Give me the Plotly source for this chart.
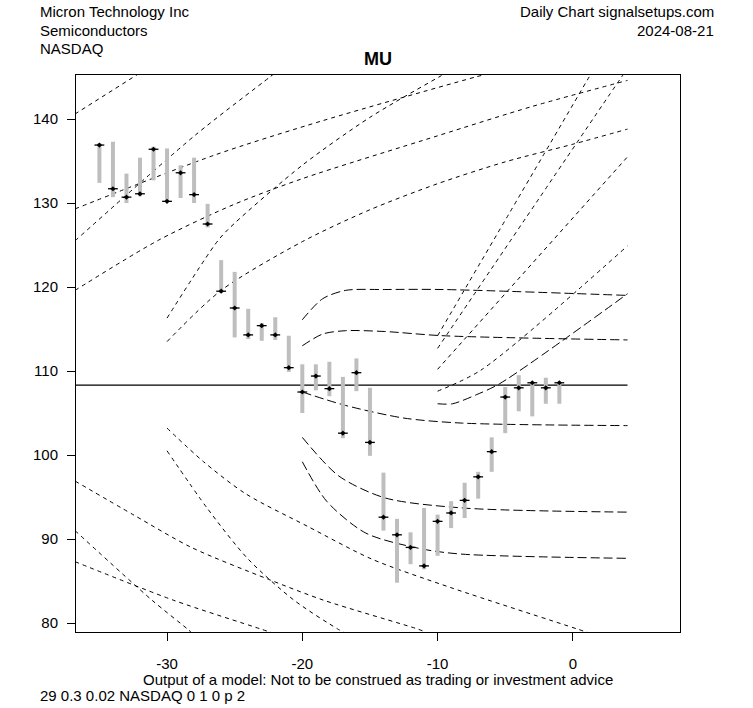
import plotly.graph_objects as go

# ---------------- data ----------------
days = list(range(-35, 0))
highs = [137.1, 137.3, 133.5, 135.4, 136.7, 136.5, 134.5, 135.4, 129.9, 123.2,
         121.8, 117.4, 115.7, 116.4, 114.2, 110.8, 110.8, 111.1, 109.3, 111.5,
         108.0, 97.9, 92.4, 90.8, 93.7, 92.9, 94.5, 96.7, 98.0, 102.1,
         108.1, 109.5, 108.7, 109.2, 108.6]
lows = [132.4, 130.7, 130.0, 130.8, 132.7, 130.1, 130.6, 130.0, 127.1, 119.3,
        114.0, 113.8, 113.6, 113.7, 109.9, 105.0, 107.7, 107.0, 102.0, 107.6,
        99.9, 91.0, 84.8, 87.0, 86.4, 88.0, 91.3, 92.5, 94.8, 98.0,
        102.6, 105.2, 104.6, 106.1, 106.1]
closes = [136.9, 131.7, 130.7, 131.1, 136.4, 130.2, 133.6, 131.0, 127.5, 119.5,
          117.5, 114.3, 115.4, 114.3, 110.4, 107.5, 109.4, 107.9, 102.6, 109.8,
          101.5, 92.6, 90.5, 89.0, 86.8, 92.1, 93.1, 94.6, 97.4, 100.4,
          106.9, 108.0, 108.6, 108.0, 108.6]

level_x = [-37.0, 4.04]
level_y = [108.33, 108.33]

# curves starting before the visible window
c1_x = [-36.8, -31.5]
c1_y = [140.6, 146.0]
c2_x = [-36.8, -26.5, -18.5, -7.2, -6.0]
c2_y = [129.3, 135.7, 139.8, 145.0, 145.5]
c3_x = [-36.8, -27.9, -22.4, -21.7]
c3_y = [125.5, 138.1, 145.0, 145.9]
c4_x = [-36.8, -30.6, -25.1, -20.0, -10.0, -3.0, 4.04]
c4_y = [119.6, 125.6, 129.8, 132.9, 138.0, 141.5, 144.6]
f1_x = [-36.8, -32.4, -28.2, -22.5, -18.4, -11.5, -11.0]
f1_y = [96.9, 92.8, 89.0, 85.2, 82.7, 79.3, 79.0]
f2_x = [-36.8, -31.1, -28.5, -28.0]
f2_y = [91.0, 82.7, 79.3, 78.6]
f3_x = [-36.8, -29.5, -23.1, -22.0]
f3_y = [87.3, 82.7, 79.3, 78.7]

# curves starting at -30
d1_x = [-30.0, -26.2, -25.0, -20.0, -15.0, -9.9, -9.0]
d1_y = [116.3, 125.6, 127.6, 134.5, 140.2, 145.0, 145.8]
d2_x = [-30.0, -26.0, -20.0, -15.0, -10.0, -5.0, 0.0, 4.04]
d2_y = [113.5, 119.6, 125.4, 129.2, 132.3, 134.9, 137.0, 138.8]
g1_x = [-30.0, -27.3, -24.2, -19.6, -14.85, -9.0, 0.3, 1.4]
g1_y = [103.2, 99.2, 95.4, 91.5, 87.6, 84.2, 79.3, 78.7]
g2_x = [-30.0, -27.0, -24.0, -20.6, -17.4, -16.5]
g2_y = [100.5, 93.6, 87.6, 82.7, 79.3, 78.5]

# curves starting at -20
u2_x = [-20.0, -18.5, -16.8, -13.9, -9.6, 4.04]
u2_y = [116.1, 118.6, 119.6, 119.7, 119.7, 119.0]
u1_x = [-20.0, -18.5, -16.8, -13.9, -9.6, 4.04]
u1_y = [113.0, 114.4, 114.8, 114.7, 114.2, 113.7]
m_x = [-20.0, -16.8, -12.5, -8.2, 4.04]
m_y = [107.5, 105.9, 104.4, 103.8, 103.5]
l1_x = [-20.0, -17.3, -13.9, -8.2, 4.04]
l1_y = [102.1, 97.5, 94.9, 93.7, 93.2]
l2_x = [-20.0, -18.2, -15.3, -11.1, -8.2, 4.04]
l2_y = [99.2, 94.5, 90.7, 88.8, 88.2, 87.7]

# curves starting at -10
e1_x = [-10.0, 1.2, 1.6]
e1_y = [114.2, 145.0, 146.1]
e2_x = [-10.0, 3.6, 4.04]
e2_y = [112.7, 145.0, 146.0]
e3_x = [-10.0, 4.04]
e3_y = [110.2, 135.5]
e4_x = [-10.0, -6.8, 4.04]
e4_y = [107.6, 110.1, 124.9]
e5_x = [-10.0, -8.9, -7.1, -5.4, 4.04]
e5_y = [106.1, 106.1, 107.2, 108.5, 119.2]

x_ticks = [-30, -20, -10, 0]
y_ticks = [80, 90, 100, 110, 120, 130, 140]

# ---------------- layout geometry ----------------
W, H = 753, 708
ML, MR, MT, MB = 76, 73, 75, 76
FONT = "Liberation Sans, Arial, sans-serif"


def px_x(px):
    return (px - ML) / (W - ML - MR)


def px_y(py):
    return (H - MB - py) / (H - MT - MB)


fig = go.Figure()

short_dash = "4px,4px"
long_dash = "9px,4px"

curves = [
    (c1_x, c1_y, short_dash), (c2_x, c2_y, short_dash), (c3_x, c3_y, short_dash),
    (c4_x, c4_y, short_dash), (f1_x, f1_y, short_dash), (f2_x, f2_y, short_dash),
    (f3_x, f3_y, short_dash), (d1_x, d1_y, short_dash), (d2_x, d2_y, short_dash),
    (g1_x, g1_y, short_dash), (g2_x, g2_y, short_dash),
    (u2_x, u2_y, long_dash), (u1_x, u1_y, long_dash), (m_x, m_y, long_dash),
    (l1_x, l1_y, long_dash), (l2_x, l2_y, long_dash),
    (e1_x, e1_y, short_dash), (e2_x, e2_y, short_dash), (e3_x, e3_y, short_dash),
    (e4_x, e4_y, short_dash), (e5_x, e5_y, long_dash),
]
for cx, cy, dash in curves:
    fig.add_trace(go.Scatter(
        x=cx, y=cy, mode="lines",
        line=dict(color="black", width=1, dash=dash, shape="spline", smoothing=0.8),
        hoverinfo="skip", showlegend=False))

# horizontal reference level
fig.add_trace(go.Scatter(x=level_x, y=level_y, mode="lines",
                         line=dict(color="black", width=1.2),
                         hoverinfo="skip", showlegend=False))

# high-low bars
bx, by = [], []
for d, lo, hi in zip(days, lows, highs):
    bx += [d, d, None]
    by += [lo, hi, None]
fig.add_trace(go.Scatter(x=bx, y=by, mode="lines",
                         line=dict(color="#BEBEBE", width=4),
                         hoverinfo="skip", showlegend=False))

# close markers
fig.add_trace(go.Scatter(x=days, y=closes, mode="markers",
                         marker=dict(symbol="line-ew", size=7,
                                     line=dict(color="black", width=1.3)),
                         showlegend=False))
fig.add_trace(go.Scatter(x=days, y=closes, mode="markers",
                         marker=dict(symbol="diamond", size=4, color="black"),
                         showlegend=False))

axis_common = dict(showgrid=False, zeroline=False, showline=True, mirror=True,
                   linecolor="black", linewidth=1, ticks="outside", ticklen=8,
                   tickcolor="black", tickwidth=1,
                   tickfont=dict(family=FONT, size=15, color="black"))

fig.update_xaxes(range=[-36.73, 7.92], tickvals=x_ticks,
                 ticktext=[str(v) for v in x_ticks], ticklabelstandoff=10,
                 **axis_common)
fig.update_yaxes(range=[78.93, 145.24], tickvals=y_ticks,
                 ticktext=[str(v) for v in y_ticks], ticklabelstandoff=6,
                 **axis_common)

ann = []


def text(s, px, py, anchor, size=15, bold=False):
    ann.append(dict(text=("<b>%s</b>" % s) if bold else s,
                    x=px_x(px), y=px_y(py), xref="paper", yref="paper",
                    xanchor=anchor, yanchor="middle", showarrow=False,
                    font=dict(family=FONT, size=size, color="black")))


text("Micron Technology Inc", 38, 11, "left")
text("Semiconductors", 38, 30, "left")
text("NASDAQ", 38, 48.5, "left")
text("Daily Chart signalsetups.com", 716, 11, "right")
text("2024-08-21", 716, 30, "right")
text("MU", 378, 59, "center", size=18, bold=True)
text("Output of a model: Not to be construed as trading or investment advice",
     378, 679, "center")
text("29 0.3 0.02 NASDAQ 0 1 0 p 2", 38, 695.5, "left")

fig.update_layout(width=W, height=H,
                  margin=dict(l=ML, r=MR, t=MT, b=MB, pad=0),
                  paper_bgcolor="white", plot_bgcolor="white",
                  annotations=ann, showlegend=False, hovermode=False,
                  font=dict(family=FONT))

fig.write_html("out.html",
               config={"displayModeBar": False, "staticPlot": True},
               post_script="document.body.style.margin='0px';"
                           "document.body.style.padding='0px';"
                           "document.body.style.overflow='hidden';")
